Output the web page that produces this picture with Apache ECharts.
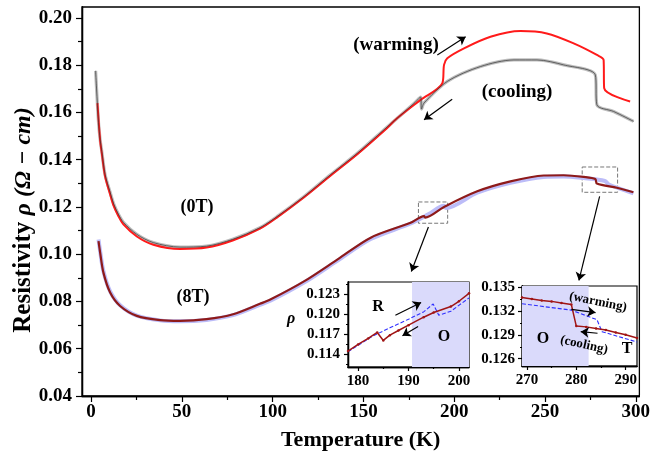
<!DOCTYPE html>
<html>
<head>
<meta charset="utf-8">
<script src="https://cdn.jsdelivr.net/npm/echarts@6/dist/echarts.min.js"></script>
<style>
html, body { margin: 0; padding: 0; background: #fff; }
#chart { width: 653px; height: 456px; }
</style>
</head>
<body>
<div id="chart"></div>
<script>
// ---- main panel data ----
// 0 T, cooling (grey open circles)
var tCool0T = [2.5, 3.0, 4.1, 5.0, 5.9, 7.7, 10.5, 12.5, 15, 17.8, 25.2, 34.3, 49, 63.6, 78, 93, 102.8, 117.5, 132, 146.8, 161.4, 178, 181.5, 182, 183.4, 196.2, 214.5, 232.9, 245.6, 260.3, 277.7, 278.6, 287.8, 298.8]
var rhoCool0T = [0.1776, 0.1703, 0.1557, 0.1484, 0.1435, 0.1337, 0.1262, 0.1212, 0.1170, 0.1135, 0.1084, 0.1049, 0.1030, 0.1034, 0.1063, 0.1112, 0.1161, 0.1245, 0.1337, 0.1428, 0.1527, 0.1639, 0.1665, 0.1614, 0.1640, 0.1731, 0.1794, 0.1822, 0.1822, 0.1801, 0.1759, 0.1632, 0.1604, 0.1562]
// 0 T, warming (red)
var tWarm0T = [3.5, 5.0, 5.9, 7.7, 10.5, 12.5, 15, 17.8, 25.2, 34.3, 49, 63.6, 78, 93, 102.8, 117.5, 132, 146.8, 161.4, 168.7, 181.5, 193.5, 194.4, 196.2, 205.4, 220, 236.5, 251, 265.8, 278.6, 282.3, 282.6, 296.9]
var rhoWarm0T = [0.1639, 0.1480, 0.1428, 0.1330, 0.1253, 0.1203, 0.1162, 0.1126, 0.1075, 0.1040, 0.1022, 0.1028, 0.1058, 0.1108, 0.1158, 0.1242, 0.1333, 0.1424, 0.1522, 0.1576, 0.1653, 0.1724, 0.1801, 0.1829, 0.1871, 0.1920, 0.1944, 0.1934, 0.1892, 0.1843, 0.1822, 0.1703, 0.1646]
// 8 T, warming (dark red)
var tWarm8T = [4.1, 5.0, 6.8, 10.5, 16, 25.2, 38, 49, 63.6, 78.2, 93, 99, 117.5, 135.8, 154, 176, 183.4, 184, 194.4, 212.7, 231, 249.3, 260.3, 271.3, 277.7, 278.6, 289.6, 298.7]
var rhoWarm8T = [0.1055, 0.1006, 0.0922, 0.0838, 0.0781, 0.0739, 0.0721, 0.0718, 0.0725, 0.0746, 0.0790, 0.0809, 0.0886, 0.0978, 0.1070, 0.1133, 0.1161, 0.1155, 0.1200, 0.1266, 0.1308, 0.1333, 0.1334, 0.1327, 0.1318, 0.1299, 0.1281, 0.1262]
// 8 T, cooling (light blue)
var tCool8T = [4.1, 5.0, 6.8, 10.5, 16, 25.2, 38, 49, 63.6, 78.2, 93, 99, 117.5, 135.8, 154, 176, 186, 194.4, 195.5, 212.7, 231, 249.3, 260.3, 271.3, 283, 285.2, 298.7]
var rhoCool8T = [0.1062, 0.1012, 0.0928, 0.0843, 0.0784, 0.0740, 0.0720, 0.0716, 0.0722, 0.0742, 0.0786, 0.0804, 0.0881, 0.0973, 0.1064, 0.1130, 0.1170, 0.1205, 0.1195, 0.1260, 0.1302, 0.1327, 0.1329, 0.1322, 0.1310, 0.1295, 0.1258]

// ---- inset 1 (R -> O transition, 8 T) ----
var tIns1Warm = [178, 180, 182, 183.8, 185, 186.3, 188, 190, 193, 195, 198.4, 200, 202]
var rhoIns1Warm = [0.1145, 0.1155, 0.1164, 0.1173, 0.1161, 0.1169, 0.1176, 0.1184, 0.1196, 0.1203, 0.1212, 0.1220, 0.1232]
var tIns1Cool = [178, 183, 186.3, 190, 193, 194.9, 196, 198.4, 202]
var rhoIns1Cool = [0.1144, 0.1168, 0.1180, 0.1193, 0.1204, 0.1216, 0.1199, 0.1205, 0.1225]

// ---- inset 2 (O -> T transition, 8 T) ----
var tIns2Warm = [269, 271, 273, 275, 277, 279, 280, 282, 284, 286, 288, 290, 292.3]
var rhoIns2Warm = [0.1337, 0.1335, 0.1333, 0.1332, 0.1330, 0.1328, 0.1301, 0.1300, 0.1298, 0.1296, 0.1293, 0.1290, 0.1286]
var tIns2Cool = [269, 279, 284.2, 285.2, 292.3]
var rhoIns2Cool = [0.1329, 0.1321, 0.1309, 0.1294, 0.1281]

// ---- ticks ----
var xTicks = [0, 50, 100, 150, 200, 250, 300]
var xMinor = [25, 75, 125, 175, 225, 275]
var yTicks = [0.04, 0.06, 0.08, 0.10, 0.12, 0.14, 0.16, 0.18, 0.20]
var yMinor = [0.05, 0.07, 0.09, 0.11, 0.13, 0.15, 0.17, 0.19]
var x1Ticks = [180, 190, 200]
var x1Minor = [185, 195]
var y1Ticks = [0.114, 0.117, 0.120, 0.123]
var y1Minor = [0.1125, 0.1155, 0.1185, 0.1215, 0.1245]
var x2Ticks = [270, 280, 290]
var x2Minor = [275, 285]
var y2Ticks = [0.126, 0.129, 0.132, 0.135]
var y2Minor = [0.1275, 0.1305, 0.1335]

var FONT = 'Liberation Serif'

function zip(a, b) {
  return a.map(function (v, i) { return [v, b[i]] })
}

// major axis + overlaid minor-tick axis (same scale)
function axes(dim, grid, min, max, major, minor, digits, fontSize, margin, tickLen) {
  var pos = dim === 'x' ? 'bottom' : 'left'
  var tickStyle = { color: '#000', width: 1.2 }
  return [{
    type: 'value', gridIndex: grid, position: pos, min: min, max: max,
    axisLine: { show: true, onZero: false, lineStyle: { color: '#000', width: 1.3 } },
    axisTick: { show: true, customValues: major, length: tickLen, lineStyle: tickStyle },
    axisLabel: {
      customValues: major, margin: margin, color: '#000',
      fontFamily: FONT, fontWeight: 'bold', fontSize: fontSize,
      formatter: function (v) { return v.toFixed(digits) }
    },
    splitLine: { show: false }
  }, {
    type: 'value', gridIndex: grid, position: pos, min: min, max: max,
    axisLine: { show: true, onZero: false, lineStyle: { color: '#000', width: 1.3 } },
    axisTick: { show: true, customValues: minor, length: Math.round(tickLen * 0.6), lineStyle: tickStyle },
    axisLabel: { show: false },
    splitLine: { show: false }
  }]
}

var xAxes = [].concat(
  axes('x', 0, -5, 302, xTicks, xMinor, 0, 19, 7, 6),
  axes('x', 1, 178, 202, x1Ticks, x1Minor, 0, 15, 7, 4),
  axes('x', 2, 269, 292.3, x2Ticks, x2Minor, 0, 15, 7, 4)
)
xAxes[0].name = 'Temperature (K)'
xAxes[0].nameLocation = 'middle'
xAxes[0].nameGap = 33
xAxes[0].nameTextStyle = { color: '#000', fontFamily: FONT, fontWeight: 'bold', fontSize: 22 }

var yAxes = [].concat(
  axes('y', 0, 0.04, 0.2046, yTicks, yMinor, 2, 19, 10, 6),
  axes('y', 1, 0.1121, 0.1249, y1Ticks, y1Minor, 3, 15, 8, 4),
  axes('y', 2, 0.12509, 0.13513, y2Ticks, y2Minor, 3, 15, 7, 4)
)

// arrows drawn as mark lines, coordinates in data space
function arrows(pairs, curveness) {
  return {
    symbol: ['none', 'arrow'], symbolSize: 8, silent: true, label: { show: false },
    lineStyle: { color: '#000', width: 1.2, type: 'solid', curveness: curveness || 0 },
    data: pairs.map(function (p) { return [{ coord: p[0] }, { coord: p[1] }] })
  }
}

var series = [
  // the blue band sits on the minor-tick axes (same scales) so they are used by a series
  { type: 'line', xAxisIndex: 1, yAxisIndex: 1, data: zip(tCool8T, rhoCool8T), symbol: 'none',
    smooth: 0.3, lineStyle: { color: '#bcbcf8', width: 4 }, z: 2 },
  { type: 'line', xAxisIndex: 0, yAxisIndex: 0, data: zip(tWarm8T, rhoWarm8T), symbol: 'none',
    smooth: 0.3, lineStyle: { color: '#8e1a1a', width: 2.2 }, z: 3,
    markArea: { silent: true, itemStyle: { color: 'rgba(0,0,0,0)', borderColor: '#777', borderWidth: 1, borderType: 'dashed' },
      data: [[{ coord: [180.3, 0.1221] }, { coord: [196.4, 0.1131] }], [{ coord: [270.5, 0.1369] }, { coord: [290, 0.1262] }]] },
    markLine: arrows([[[185.8, 0.1115], [176.4, 0.0927]], [[280.1, 0.1245], [268.7, 0.0889]]]) },
  { type: 'line', xAxisIndex: 0, yAxisIndex: 0, data: zip(tCool0T, rhoCool0T), symbol: 'none',
    smooth: 0.3, lineStyle: { color: '#bdbdbd', width: 3.2 }, z: 2,
    markLine: arrows([[[198.9, 0.1656], [183.4, 0.1569]]]) },
  { type: 'line', xAxisIndex: 0, yAxisIndex: 0, data: zip(tCool0T, rhoCool0T), symbol: 'none',
    smooth: 0.3, lineStyle: { color: '#333', width: 0.7 }, z: 4 },
  { type: 'line', xAxisIndex: 0, yAxisIndex: 0, data: zip(tWarm0T, rhoWarm0T), symbol: 'none',
    smooth: 0.3, lineStyle: { color: '#ff1a1a', width: 2 }, z: 3,
    markLine: arrows([[[190.7, 0.1843], [206.3, 0.1920]]], -0.3) },

  // inset 1
  { type: 'line', xAxisIndex: 3, yAxisIndex: 3, data: zip(tIns1Cool, rhoIns1Cool), symbol: 'none',
    lineStyle: { opacity: 0 }, z: 1,
    markArea: { silent: true, itemStyle: { color: '#dadafb' }, data: [[{ xAxis: 190.7 }, { xAxis: 202 }]] } },
  { type: 'line', xAxisIndex: 2, yAxisIndex: 2, data: zip(tIns1Cool, rhoIns1Cool), symbol: 'none',
    lineStyle: { color: '#3030ff', width: 1.1, type: [4, 2] }, z: 3,
    markLine: arrows([[[187.4, 0.1199], [192.5, 0.1218]], [[191.9, 0.1182], [188.8, 0.1168]]]) },
  { type: 'line', xAxisIndex: 2, yAxisIndex: 2, data: zip(tIns1Warm, rhoIns1Warm), symbol: 'circle', symbolSize: 2.5,
    itemStyle: { color: '#a01515' }, lineStyle: { color: '#a01515', width: 1.5 }, z: 4 },

  // inset 2
  { type: 'line', xAxisIndex: 5, yAxisIndex: 5, data: zip(tIns2Cool, rhoIns2Cool), symbol: 'none',
    lineStyle: { opacity: 0 }, z: 1,
    markArea: { silent: true, itemStyle: { color: '#dadafb' }, data: [[{ xAxis: 269 }, { xAxis: 282.5 }]] } },
  { type: 'line', xAxisIndex: 4, yAxisIndex: 4, data: zip(tIns2Cool, rhoIns2Cool), symbol: 'none',
    lineStyle: { color: '#3030ff', width: 1.1, type: [4, 2] }, z: 3,
    markLine: arrows([[[279.0, 0.1322], [283.9, 0.1318]], [[284.3, 0.1292], [280.9, 0.1294]]]) },
  { type: 'line', xAxisIndex: 4, yAxisIndex: 4, data: zip(tIns2Warm, rhoIns2Warm), symbol: 'circle', symbolSize: 2.5,
    itemStyle: { color: '#a01515' }, lineStyle: { color: '#a01515', width: 1.5 }, z: 4 }
]

function txt(x, y, text, size, rot) {
  return {
    type: 'text', x: x, y: y, rotation: rot || 0, z: 50, silent: true,
    style: { text: text, fill: '#000', font: 'bold ' + size + 'px "' + FONT + '"', align: 'center', verticalAlign: 'middle' }
  }
}

var graphics = [
  {
    type: 'text', x: 24, y: 220, rotation: Math.PI / 2, z: 50, silent: true,
    style: {
      text: '{a|Resistivity }{b|ρ (Ω − cm)}', align: 'center', verticalAlign: 'middle',
      rich: {
        a: { fill: '#000', fontFamily: FONT, fontWeight: 'bold', fontSize: 25 },
        b: { fill: '#000', fontFamily: FONT, fontWeight: 'bold', fontStyle: 'italic', fontSize: 24 }
      }
    }
  },
  txt(396, 45, '(warming)', 19),
  txt(517, 92, '(cooling)', 19),
  txt(197, 207, '(0T)', 18),
  txt(193, 297, '(8T)', 18),
  txt(378, 307, 'R', 16),
  txt(444, 337, 'O', 16),
  txt(543, 339, 'O', 16),
  txt(627, 349, 'T', 16),
  txt(598, 302, '(warming)', 13, -0.2),
  txt(584, 345, '(cooling)', 13, -0.22),
  {
    type: 'text', x: 291, y: 319, z: 50, silent: true,
    style: { text: 'ρ', fill: '#000', font: 'italic bold 16px "' + FONT + '"', align: 'center', verticalAlign: 'middle' }
  }
]

var chart = echarts.init(document.getElementById('chart'))
chart.setOption({
  animation: false,
  backgroundColor: '#fff',
  grid: [
    { left: 82, right: 10, top: 7, bottom: 59, show: true, borderColor: '#000', borderWidth: 1.3, backgroundColor: '#fff' },
    { left: 348, top: 282, width: 121, height: 85, show: true, borderColor: '#000', borderWidth: 1.2, backgroundColor: '#fff' },
    { left: 522, top: 286, width: 115, height: 80, show: true, borderColor: '#000', borderWidth: 1.2, backgroundColor: '#fff' }
  ],
  xAxis: xAxes,
  yAxis: yAxes,
  series: series,
  graphic: graphics
})
</script>
</body>
</html>
